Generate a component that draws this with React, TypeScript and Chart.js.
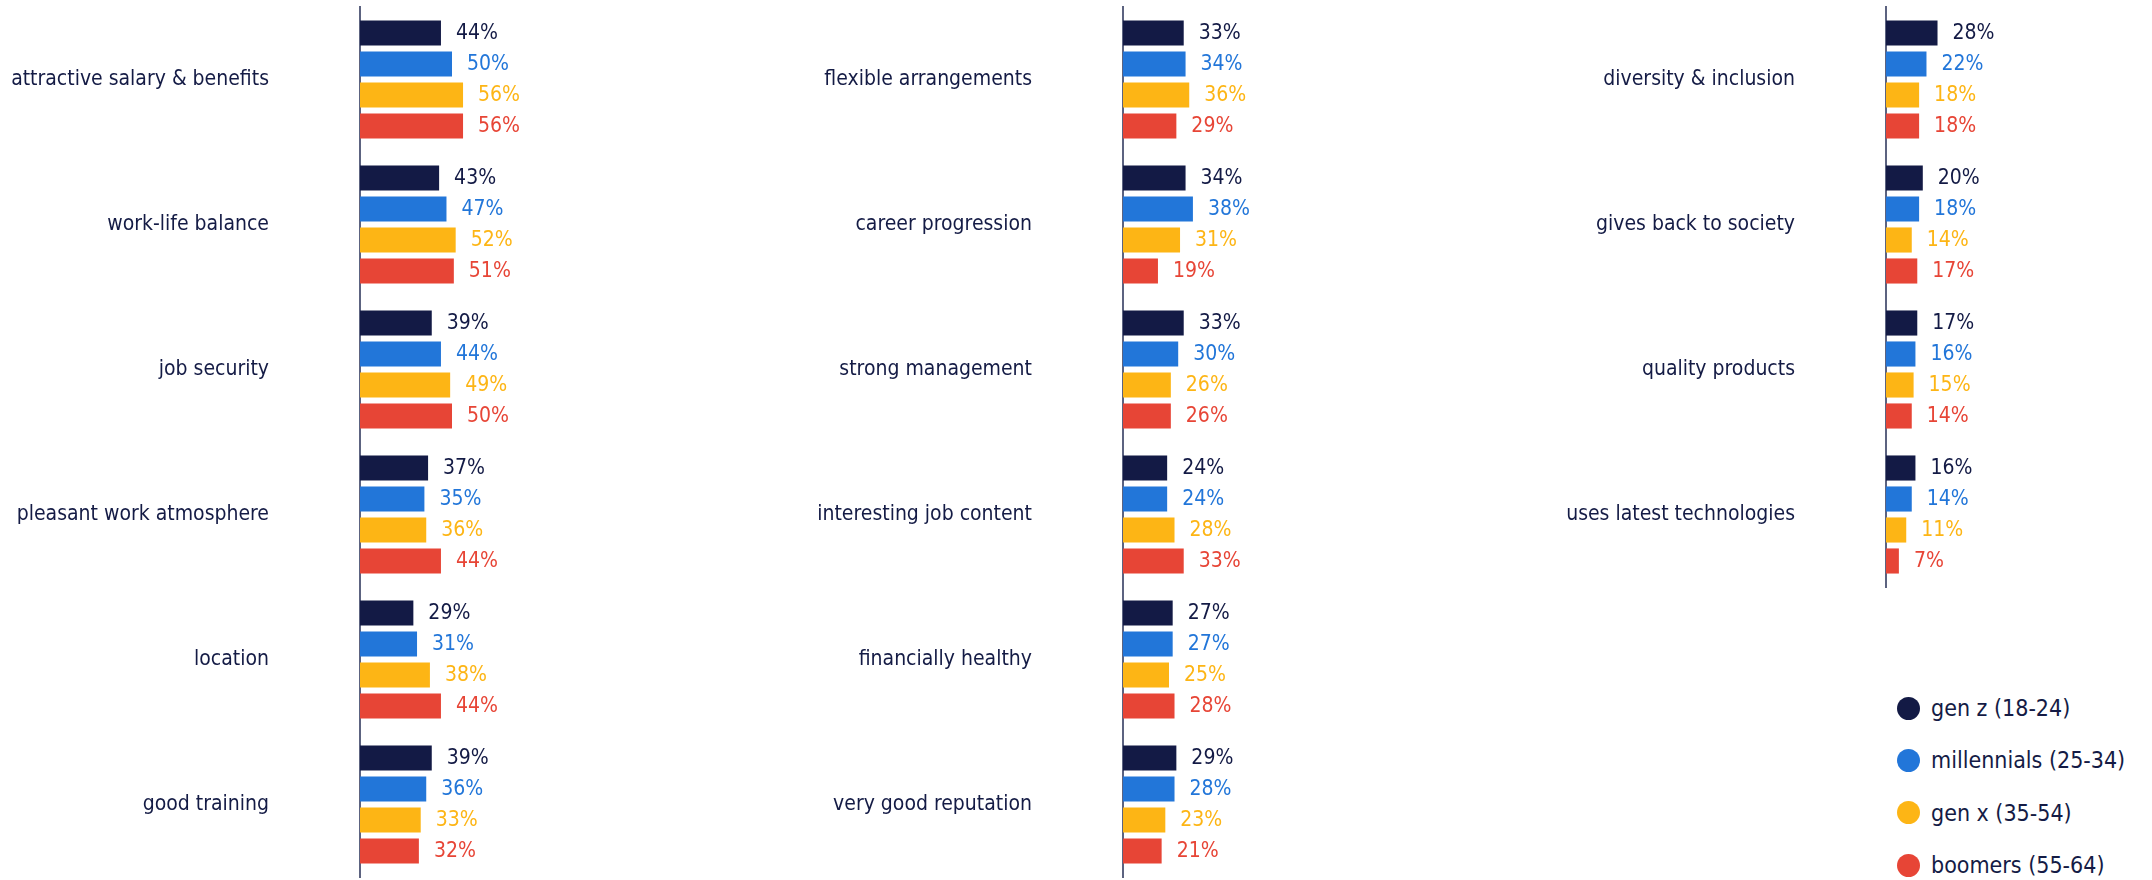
import React, { useEffect, useRef } from "react";
import { Chart, registerables } from "chart.js";

Chart.register(...registerables);

const SERIES_LABELS = ["gen z (18-24)", "millennials (25-34)", "gen x (35-54)", "boomers (55-64)"];
const SERIES_COLORS = ["#131a45", "#2276d9", "#fdb515", "#e74536"];

const P1_CATEGORIES = ["attractive salary & benefits", "work-life balance", "job security", "pleasant work atmosphere", "location", "good training"];
const P1_GENZ = [44, 43, 39, 37, 29, 39];
const P1_MILLENNIALS = [50, 47, 44, 35, 31, 36];
const P1_GENX = [56, 52, 49, 36, 38, 33];
const P1_BOOMERS = [56, 51, 50, 44, 44, 32];

const P2_CATEGORIES = ["flexible arrangements", "career progression", "strong management", "interesting job content", "financially healthy", "very good reputation"];
const P2_GENZ = [33, 34, 33, 24, 27, 29];
const P2_MILLENNIALS = [34, 38, 30, 24, 27, 28];
const P2_GENX = [36, 31, 26, 28, 25, 23];
const P2_BOOMERS = [29, 19, 26, 33, 28, 21];

const P3_CATEGORIES = ["diversity & inclusion", "gives back to society", "quality products", "uses latest technologies"];
const P3_GENZ = [28, 20, 17, 16];
const P3_MILLENNIALS = [22, 18, 16, 14];
const P3_GENX = [18, 14, 15, 11];
const P3_BOOMERS = [18, 17, 14, 7];

const FONT_FAMILY = "'DejaVu Sans Condensed', 'DejaVu Sans', sans-serif";
const FONT_SIZE = 21;
const LEGEND_FONT_SIZE = 23;
const TEXT_COLOR = "#141b45";
const AXIS_COLOR = "#5c6380";
const BAND = 145;
const AXIS_W = 360;
const PLOT_W = 184;

const valueLabels = {
  id: "valueLabels",
  afterDatasetsDraw(chart: any) {
    const ctx = chart.ctx;
    ctx.save();
    ctx.font = `${FONT_SIZE}px ${FONT_FAMILY}`;
    ctx.textAlign = "left";
    ctx.textBaseline = "middle";
    chart.data.datasets.forEach((ds: any, i: number) => {
      const meta = chart.getDatasetMeta(i);
      ctx.fillStyle = ds.backgroundColor;
      meta.data.forEach((el: any, j: number) => {
        ctx.fillText(`${ds.data[j]}%`, el.x + 15, el.y + 1);
      });
    });
    ctx.restore();
  },
};

function Panel(props: { left: number; categories: string[]; series: number[][] }) {
  const ref = useRef<HTMLCanvasElement>(null);
  const height = 7 + props.categories.length * BAND + 3;
  const width = AXIS_W + PLOT_W;
  useEffect(() => {
    if (!ref.current) return;
    const chart = new Chart(ref.current, {
      type: "bar",
      data: {
        labels: props.categories,
        datasets: props.series.map((d, i) => ({
          label: SERIES_LABELS[i],
          data: d,
          backgroundColor: SERIES_COLORS[i],
          borderWidth: 0,
          categoryPercentage: 0.855,
          barPercentage: 0.81,
        })),
      },
      options: {
        indexAxis: "y",
        responsive: false,
        animation: false,
        devicePixelRatio: 1,
        layout: { padding: { top: 7, bottom: 3, left: 0, right: 0 } },
        plugins: { legend: { display: false }, tooltip: { enabled: false } },
        scales: {
          x: { display: false, min: 0, max: 100 },
          y: {
            afterFit: (s: any) => {
              s.width = AXIS_W;
              s.paddingTop = 0;
              s.paddingBottom = 0;
            },
            grid: { display: false, drawTicks: false, tickLength: 0 },
            border: { display: true, color: AXIS_COLOR, width: 2 },
            ticks: {
              padding: 91,
              color: TEXT_COLOR,
              autoSkip: false,
              font: { family: FONT_FAMILY, size: FONT_SIZE },
            },
          },
        },
      },
      plugins: [valueLabels],
    } as any);
    return () => chart.destroy();
  }, []);
  return (
    <canvas
      ref={ref}
      width={width}
      height={height}
      style={{ position: "absolute", left: props.left, top: 0, width, height }}
    />
  );
}

function Legend() {
  return (
    <div style={{ position: "absolute", left: 1897, top: 682, fontFamily: FONT_FAMILY, fontSize: LEGEND_FONT_SIZE, color: TEXT_COLOR }}>
      {SERIES_LABELS.map((l, i) => (
        <div key={l} style={{ display: "flex", alignItems: "center", height: 52.3 }}>
          <span style={{ display: "inline-block", width: 23, height: 23, borderRadius: "50%", background: SERIES_COLORS[i], marginRight: 11 }} />
          <span style={{ whiteSpace: "nowrap" }}>{l}</span>
        </div>
      ))}
    </div>
  );
}

export default function App() {
  return (
    <div style={{ position: "absolute", left: 0, top: 0, width: 2152, height: 880, background: "#fff", overflow: "hidden" }}>
      <Panel left={0} categories={P1_CATEGORIES} series={[P1_GENZ, P1_MILLENNIALS, P1_GENX, P1_BOOMERS]} />
      <Panel left={763} categories={P2_CATEGORIES} series={[P2_GENZ, P2_MILLENNIALS, P2_GENX, P2_BOOMERS]} />
      <Panel left={1526} categories={P3_CATEGORIES} series={[P3_GENZ, P3_MILLENNIALS, P3_GENX, P3_BOOMERS]} />
      <Legend />
    </div>
  );
}
